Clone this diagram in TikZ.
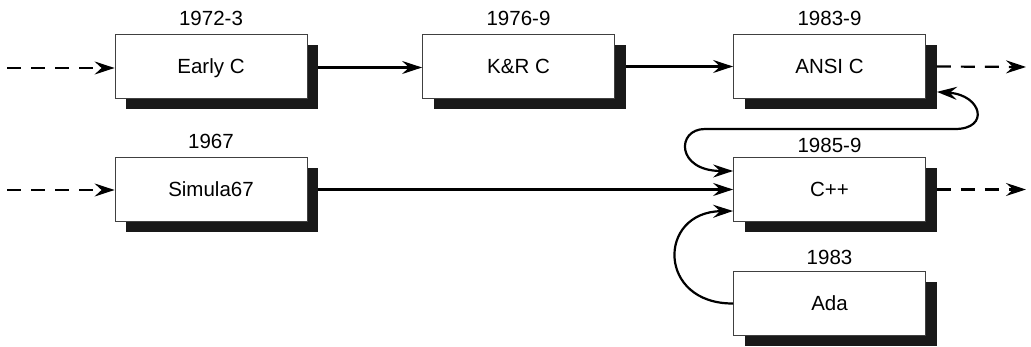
\documentclass[tikz,border=0pt]{standalone}
\usepackage{fontspec}
\setmainfont{Liberation Sans}
\usetikzlibrary{arrows.meta,shadows}
\begin{document}
\begin{tikzpicture}[x=1pt,y=-1pt,
  box/.style={draw=black!75, line width=0.8pt, fill=white, minimum width=192pt,
    minimum height=64pt, inner sep=0pt, text height=14.7pt, text depth=0pt,
    font=\fontsize{20.5}{24}\selectfont,
    drop shadow={shadow xshift=11pt, shadow yshift=-11pt, fill=black!90, opacity=1}},
  year/.style={font=\fontsize{20.5}{24}\selectfont, inner sep=0pt},
  tip/.tip={Stealth[length=20pt,width=13pt,inset=7pt]},
  conn/.style={line width=2.2pt, -tip},
  dashconn/.style={conn, dash pattern=on 14pt off 10pt},
]
\useasboundingbox (0,0) rectangle (1031,347);

\node[box] (earlyc) at (211,66.5) {Early C};
\node[box] (krc) at (518.5,66.5) {K\&R C};
\node[box] (ansic) at (829.5,66.5) {ANSI C};
\node[box] (simula) at (211,189) {Simula67};
\node[box] (cpp) at (829.5,189.5) {C++};
\node[box] (ada) at (829.5,303.5) {Ada};

\node[year] (y1) at (211,18) {1972-3};
\node[year] (y2) at (518.5,18) {1976-9};
\node[year] (y3) at (829.5,18) {1983-9};
\node[year] (y4) at (211,141) {1967};
\node[year] (y5) at (829.5,145) {1985-9};
\node[year] (y6) at (829.5,257) {1983};

\coordinate (lin1) at (7,68);
\coordinate (lin2) at (7,190);
\coordinate (rout1) at (1026,67);
\coordinate (rout2) at (1026,189.5);

\draw[dashconn] (lin1) -- (lin1 -| earlyc.west);
\draw[conn] ([xshift=11pt,yshift=-1pt]earlyc.east) -- ([yshift=-1pt]krc.west);
\draw[conn] ([xshift=11pt]krc.east) -- (ansic.west);
\draw[dashconn] ([xshift=11pt]ansic.east) -- (rout1);
\draw[dashconn] (lin2) -- (lin2 -| simula.west);
\draw[conn] ([xshift=11pt,yshift=-0.5pt]simula.east) -- (cpp.west);
\draw[dashconn] ([xshift=11pt]cpp.east) -- (rout2);

\draw[line width=2.2pt, tip-tip] ([xshift=11pt,yshift=7pt]ansic.south east)
  .. controls (982,95) and (990,129) .. (955,129) -- (705,129)
  .. controls (676,129) and (676,171) .. ([yshift=18.5pt]cpp.west);
\draw[conn] (ada.west) .. controls (657,304) and (657,212) .. ([yshift=-21.5pt]cpp.west);
\end{tikzpicture}
\end{document}
